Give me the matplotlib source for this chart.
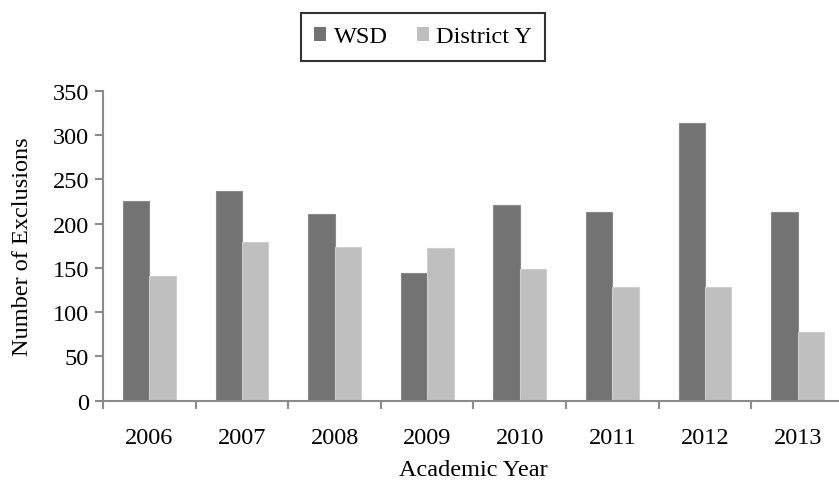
import numpy as np
import matplotlib
matplotlib.use("Agg")
import matplotlib.pyplot as plt

plt.rcParams['font.family'] = ['Liberation Serif', 'DejaVu Serif']

# data
years = ['2006', '2007', '2008', '2009', '2010', '2011', '2012', '2013']
wsd = [225, 237, 211, 144, 221, 213, 313, 213]
district_y = [141, 179, 173, 172, 149, 128, 128, 78]

fig = plt.figure(figsize=(8.39, 4.81), dpi=100)
ax = fig.add_axes([103 / 839, 79.3 / 481, 741 / 839, 310 / 481])

x = np.arange(len(years))
w = 0.285
fs = 17.5
axis_col = '#8c8c8c'
ax.bar(x - w / 2, wsd, w, color='#737373', edgecolor='#8a8a8a', linewidth=0.8, label='WSD')
ax.bar(x + w / 2, district_y, w, color='#bfbfbf', edgecolor='#cfcfcf', linewidth=0.8, label='District Y')

ax.set_xlim(-0.5, len(years) - 0.5)
ax.set_ylim(0, 350)
ax.set_yticks(range(0, 351, 50))
ax.set_xticks(x)
ax.set_xticklabels(years)
ax.set_xticks(np.arange(-0.5, len(years), 1), minor=True)
ax.tick_params(axis='x', which='major', length=0, labelsize=fs, pad=19)
ax.tick_params(axis='x', which='minor', length=6, width=1.5, color=axis_col, direction='out')
ax.tick_params(axis='y', length=6, width=1.5, color=axis_col, labelsize=fs, pad=4)

for s in ['top', 'right']:
    ax.spines[s].set_visible(False)
for s in ['left', 'bottom']:
    ax.spines[s].set_color(axis_col)
    ax.spines[s].set_linewidth(1.5)

ax.set_xlabel('Academic Year', fontsize=fs, labelpad=8)
ax.set_ylabel('Number of Exclusions', fontsize=fs, labelpad=14)

leg = fig.legend(loc='upper center', bbox_to_anchor=(423 / 839, 1 - 14 / 481), ncol=2,
                 fontsize=fs, frameon=True, fancybox=False, edgecolor='black',
                 handlelength=0.5, handleheight=0.5, handletextpad=0.3, columnspacing=1.2,
                 borderpad=0.55, borderaxespad=0)
leg.get_frame().set_linewidth(1.5)
for h in leg.legend_handles:
    h.set_linewidth(0)

fig.savefig('out.png', dpi=100)
